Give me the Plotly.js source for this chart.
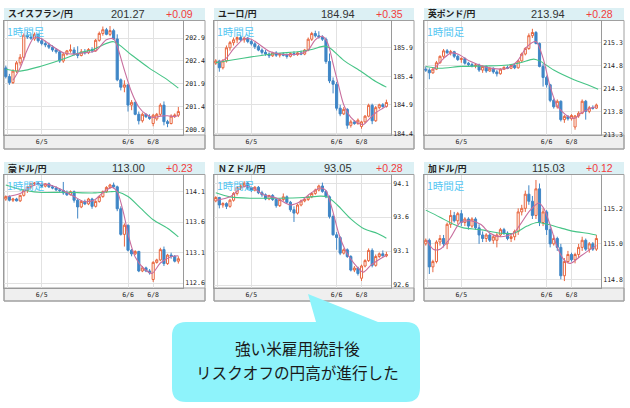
<!DOCTYPE html>
<html><head><meta charset="utf-8">
<script src="https://cdn.plot.ly/plotly-3.0.1.min.js"></script>
<style>html,body{margin:0;padding:0;background:#fff;}#chart{width:630px;height:408px;}</style>
</head><body><div id="chart"></div>
<script>
// ---------- data ----------
const pairNames = ["スイスフラン/円","ユーロ/円","英ポンド/円","豪ドル/円","ＮＺドル/円","加ドル/円"];
const lastPrices = ["201.27","184.94","213.94","113.00","93.05","115.03"];
const dayChanges = ["+0.09","+0.35","+0.28","+0.23","+0.28","+0.12"];
const timeframeLabel = "1時間足";
const xTickVals = [0.4, 10, 34, 41];
const xTickText = ["", "6/5", "6/6", "6/8"];

const chfOpen = [202.25,202.06,201.93,202.18,202.36,202.48,202.96,202.92,202.88,202.98,202.84,202.78,202.75,202.70,202.64,202.60,202.40,202.55,202.62,202.64,202.56,202.52,202.60,202.58,202.65,202.62,202.85,203.00,203.08,202.98,203.06,202.88,201.99,201.83,201.88,201.44,201.50,201.24,201.10,201.24,201.19,201.04,201.14,201.24,201.44,201.08,201.04,201.20,201.22];
const chfHigh = [202.30,202.12,202.22,202.40,202.55,203.00,203.05,203.00,203.02,203.00,202.90,202.84,202.80,202.74,202.68,202.63,202.58,202.64,202.76,202.70,202.72,202.66,202.66,202.68,202.70,202.88,203.04,203.15,203.12,203.16,203.10,202.98,202.02,201.98,201.90,201.55,201.52,201.30,201.28,201.26,201.24,201.25,201.27,201.48,201.52,201.12,201.24,201.26,201.40];
const chfLow = [202.02,201.88,201.90,202.14,202.30,202.42,202.88,202.86,202.84,202.80,202.74,202.70,202.66,202.60,202.56,202.36,202.36,202.52,202.58,202.52,202.46,202.50,202.54,202.55,202.58,202.60,202.82,202.95,202.96,202.94,202.86,201.96,201.76,201.72,201.30,201.33,201.22,201.02,201.06,201.16,201.12,200.98,201.10,201.20,201.00,200.96,201.02,201.16,201.18];
const chfClose = [202.06,201.93,202.18,202.36,202.48,202.96,202.92,202.90,202.98,202.84,202.78,202.75,202.70,202.64,202.60,202.40,202.55,202.62,202.64,202.56,202.52,202.60,202.58,202.65,202.62,202.85,203.00,203.08,202.98,203.06,202.88,201.99,201.83,201.88,201.44,201.50,201.24,201.10,201.24,201.19,201.15,201.22,201.24,201.44,201.08,201.04,201.20,201.22,201.30];
const chfFastX = [2,4,6,8,10,13,16,19,22,25,28,30,31,33,35,37,39,41,43,45,47,48];
const chfFastY = [201.98,202.25,202.65,202.92,202.88,202.72,202.58,202.55,202.58,202.62,202.86,202.88,202.72,202.20,201.72,201.40,201.24,201.17,201.20,201.21,201.19,201.22];
const chfSlowX = [0,4,10,17,21,24,26,30,35,40,45,48];
const chfSlowY = [202.22,202.18,202.29,202.47,202.59,202.64,202.71,202.82,202.53,202.24,201.99,201.81];

const eurOpen = [185.63,185.67,185.55,185.67,185.90,185.99,186.04,186.08,186.04,186.07,186.01,185.97,185.92,185.86,185.82,185.79,185.76,185.81,185.77,185.79,185.77,185.75,185.80,185.78,185.81,185.79,185.86,186.05,186.15,186.11,186.09,186.05,185.66,185.32,185.26,184.84,184.74,184.82,184.54,184.60,184.57,184.52,184.60,184.70,184.89,184.62,184.85,184.90,184.87];
const eurHigh = [185.70,185.69,185.70,185.94,186.02,186.08,186.10,186.12,186.10,186.09,186.04,186.00,185.95,185.89,185.86,185.82,185.83,185.84,185.81,185.82,185.80,185.82,185.84,185.83,185.85,185.88,186.08,186.18,186.20,186.19,186.12,186.08,185.80,185.38,185.30,184.90,184.86,184.84,184.64,184.63,184.66,184.62,184.72,184.92,184.92,184.88,184.92,184.93,184.99];
const eurLow = [185.60,185.48,185.52,185.64,185.85,185.94,185.98,186.02,185.99,185.98,185.94,185.88,185.84,185.78,185.76,185.72,185.74,185.74,185.73,185.75,185.71,185.73,185.76,185.76,185.77,185.77,185.84,186.02,186.08,186.06,186.02,185.62,185.28,185.10,184.80,184.70,184.72,184.48,184.50,184.55,184.55,184.48,184.58,184.68,184.56,184.60,184.82,184.85,184.85];
const eurClose = [185.67,185.55,185.67,185.90,185.99,186.04,186.08,186.04,186.07,186.01,185.97,185.92,185.86,185.82,185.79,185.76,185.81,185.77,185.79,185.77,185.75,185.80,185.78,185.81,185.79,185.86,186.05,186.15,186.11,186.09,186.05,185.66,185.32,185.26,184.84,184.74,184.82,184.54,184.60,184.57,184.63,184.60,184.70,184.89,184.62,184.85,184.90,184.87,184.94];
const eurFastX = [1,3,5,8,10,12,15,18,21,24,26,28,30,31.5,33,34.5,36,38,40,41.5,43,45,47,48];
const eurFastY = [185.65,185.72,185.88,186.06,186.05,185.97,185.84,185.79,185.78,185.80,185.86,186.04,186.10,185.98,185.62,185.25,184.90,184.68,184.58,184.55,184.64,184.76,184.84,184.88];
const eurSlowX = [0,5,10,17,23,27,30.5,32,36,41,45,48];
const eurSlowY = [185.64,185.69,185.74,185.80,185.83,185.87,185.93,185.90,185.68,185.48,185.31,185.21];

const gbpOpen = [214.72,214.70,214.64,214.72,214.86,215.00,215.12,215.08,215.10,215.00,214.93,214.95,214.85,214.82,214.79,214.81,214.70,214.78,214.68,214.74,214.66,214.62,214.72,214.76,214.74,214.80,214.75,214.90,215.05,215.17,215.45,215.52,215.28,214.78,214.54,214.38,214.04,213.90,214.02,213.62,213.69,213.64,213.46,213.70,213.76,214.02,213.80,213.88,213.87];
const gbpHigh = [214.78,214.74,214.75,214.90,215.02,215.16,215.16,215.14,215.12,215.04,214.98,214.98,214.88,214.86,214.84,214.84,214.80,214.80,214.76,214.76,214.70,214.74,214.78,214.80,214.82,214.84,214.92,215.08,215.20,215.50,215.60,215.55,215.30,214.84,214.58,214.40,214.08,214.06,214.04,213.72,213.72,213.74,213.72,213.80,214.06,214.05,213.92,213.93,213.97];
const gbpLow = [214.66,214.50,214.62,214.70,214.84,214.96,215.05,215.02,214.96,214.90,214.86,214.82,214.78,214.76,214.74,214.66,214.64,214.64,214.66,214.62,214.56,214.60,214.70,214.72,214.72,214.72,214.73,214.88,215.02,215.14,215.40,215.26,214.76,214.34,214.32,214.00,213.86,213.86,213.58,213.55,213.60,213.60,213.40,213.66,213.74,213.62,213.76,213.84,213.85];
const gbpClose = [214.70,214.64,214.72,214.86,215.00,215.12,215.08,215.10,215.00,214.93,214.95,214.85,214.82,214.79,214.81,214.70,214.78,214.68,214.74,214.66,214.62,214.72,214.76,214.74,214.80,214.75,214.90,215.05,215.17,215.45,215.52,215.28,214.78,214.54,214.38,214.04,213.90,214.02,213.62,213.69,213.64,213.71,213.70,213.76,214.02,213.80,213.88,213.87,213.94];
const gbpFastX = [2,5,7,9,12.5,17,21,23,25.7,28.5,31,33,35,37,40,42,43.6,46.4,48];
const gbpFastY = [214.70,214.95,215.07,215.05,214.89,214.76,214.72,214.74,214.89,215.21,215.32,214.96,214.34,213.92,213.69,213.65,213.76,213.87,213.90];
const gbpSlowX = [0,4,10,17,23,26.6,30.4,32.3,36,41.7,45.5,48.5];
const gbpSlowY = [214.78,214.74,214.78,214.79,214.81,214.86,214.94,214.89,214.70,214.49,214.38,214.28];

const audOpen = [113.98,114.02,113.96,113.98,113.95,114.04,114.12,114.18,114.23,114.24,114.22,114.19,114.23,114.18,114.16,114.13,114.12,114.08,114.05,114.10,113.96,113.85,113.94,113.90,113.98,113.86,113.94,114.02,114.10,114.17,114.21,114.18,113.82,113.40,113.55,113.14,113.08,113.12,112.80,112.85,112.80,112.66,112.94,112.98,113.15,112.92,113.06,113.04,112.96];
const audHigh = [114.04,114.04,114.00,114.00,114.05,114.14,114.20,114.25,114.26,114.26,114.25,114.24,114.25,114.21,114.19,114.16,114.26,114.12,114.12,114.12,113.98,113.96,113.97,114.00,114.00,113.96,114.04,114.12,114.19,114.23,114.25,114.20,113.86,113.58,113.56,113.16,113.14,113.13,112.88,112.87,112.83,112.96,113.00,113.18,113.20,113.08,113.10,113.06,113.04];
const audLow = [113.95,113.94,113.93,113.94,113.93,114.02,114.08,114.15,114.20,114.20,114.17,114.17,114.16,114.14,114.11,114.09,114.05,114.03,114.04,113.92,113.66,113.83,113.88,113.88,113.82,113.84,113.92,114.00,114.08,114.15,114.16,113.78,113.38,113.20,113.12,113.04,113.06,112.78,112.78,112.78,112.74,112.62,112.92,112.96,112.88,112.90,113.00,112.94,112.92];
const audClose = [114.02,113.96,113.98,113.95,114.04,114.12,114.18,114.23,114.24,114.22,114.19,114.23,114.18,114.16,114.13,114.12,114.08,114.05,114.10,113.96,113.85,113.94,113.90,113.98,113.86,113.94,114.02,114.10,114.17,114.21,114.18,113.82,113.40,113.55,113.14,113.08,113.12,112.80,112.85,112.80,112.77,112.94,112.98,113.15,112.92,113.06,113.04,112.96,113.00];
const audFastX = [0.5,4,8,11.5,15,19,21.7,24.5,27.3,29.6,31,32.8,34.2,36,38.4,40.7,43,45.8,48];
const audFastY = [114.02,114.07,114.21,114.22,114.15,114.02,113.94,113.96,114.10,114.17,114.10,113.74,113.36,113.03,112.84,112.76,112.93,113.03,113.05];
const audSlowX = [0,4,9,17,24.5,29,31,34,37.5,41,45,48];
const audSlowY = [114.21,114.14,114.09,114.09,114.08,114.10,114.10,114.02,113.83,113.64,113.50,113.36];

const nzdOpen = [93.84,93.89,93.78,93.80,93.76,93.85,93.95,94.04,94.06,94.10,94.03,94.00,94.04,93.96,93.93,93.87,93.92,93.86,93.77,93.86,93.90,93.82,93.71,93.66,93.78,93.84,93.86,93.90,93.95,94.00,94.06,93.98,93.90,93.61,93.34,93.30,93.07,93.12,93.02,92.82,92.85,92.70,92.88,92.96,93.11,92.89,93.02,93.06,93.03];
const nzdHigh = [93.91,93.90,93.82,93.82,93.87,93.97,94.06,94.09,94.13,94.12,94.05,94.06,94.06,93.99,93.95,93.93,93.94,93.88,93.88,93.95,93.92,93.84,93.76,93.80,93.86,93.88,93.92,93.97,94.02,94.08,94.11,94.00,93.92,93.64,93.38,93.32,93.14,93.14,93.04,92.88,92.87,92.90,92.98,93.14,93.14,93.05,93.08,93.11,93.09];
const nzdLow = [93.82,93.73,93.74,93.72,93.74,93.83,93.92,94.00,94.04,94.00,93.97,93.98,93.94,93.90,93.85,93.85,93.84,93.74,93.75,93.84,93.80,93.68,93.53,93.64,93.76,93.82,93.84,93.88,93.93,93.98,93.96,93.88,93.58,93.33,93.12,93.04,93.05,93.00,92.80,92.79,92.74,92.66,92.86,92.94,92.86,92.87,93.00,93.02,93.01];
const nzdClose = [93.89,93.78,93.80,93.76,93.85,93.95,94.04,94.06,94.10,94.03,94.00,94.04,93.96,93.93,93.87,93.92,93.86,93.77,93.86,93.90,93.82,93.71,93.66,93.78,93.84,93.86,93.90,93.95,94.00,94.06,93.98,93.90,93.61,93.34,93.30,93.07,93.12,93.02,92.82,92.85,92.77,92.88,92.96,93.11,92.89,93.02,93.06,93.03,93.05];
const nzdFastX = [0.3,4,7.8,10.6,13.4,17.2,21,23.8,26.6,29.4,30.9,32.7,34.6,36.5,38.9,41.5,43.6,46.4,48];
const nzdFastY = [93.85,93.90,94.05,94.03,93.93,93.88,93.78,93.83,93.95,94.03,94.00,93.73,93.36,93.11,92.92,92.79,92.89,92.99,93.04];
const nzdSlowX = [0,4,9.7,17.2,24.7,29.4,31.3,34.2,37.9,41.7,45.5,48];
const nzdSlowY = [93.96,93.90,93.88,93.88,93.89,93.91,93.90,93.78,93.58,93.43,93.36,93.29];

const cadOpen = [115.00,115.02,114.87,114.90,115.01,115.03,115.00,115.11,115.16,115.13,115.17,115.12,115.14,115.10,115.14,115.09,115.05,115.03,115.05,115.02,115.02,115.05,115.08,115.06,115.03,115.04,115.07,115.18,115.20,115.28,115.24,115.16,115.31,115.12,115.18,115.08,115.00,115.03,114.98,114.82,114.90,114.94,114.91,114.94,114.98,115.02,114.97,115.00,114.97];
const cadHigh = [115.03,115.03,114.91,115.02,115.05,115.05,115.12,115.19,115.18,115.18,115.19,115.15,115.15,115.15,115.15,115.11,115.07,115.06,115.06,115.05,115.06,115.09,115.09,115.07,115.05,115.08,115.20,115.22,115.30,115.33,115.27,115.36,115.34,115.20,115.19,115.10,115.05,115.04,115.00,114.92,114.96,114.95,114.95,115.00,115.04,115.03,115.01,115.01,115.05];
const cadLow = [114.99,114.83,114.84,114.89,114.99,114.98,114.97,115.09,115.12,115.11,115.10,115.10,115.08,115.09,115.08,115.00,115.01,115.01,115.01,115.00,114.98,115.04,115.05,115.02,115.01,115.02,115.05,115.16,115.18,115.22,115.14,115.14,115.10,115.10,115.05,114.98,114.99,114.96,114.80,114.79,114.89,114.90,114.89,114.92,114.96,114.96,114.95,114.96,114.96];
const cadClose = [115.02,114.87,114.90,115.01,115.03,115.00,115.11,115.16,115.13,115.17,115.12,115.14,115.10,115.14,115.09,115.05,115.03,115.05,115.02,115.04,115.05,115.08,115.06,115.03,115.04,115.07,115.18,115.20,115.28,115.24,115.16,115.31,115.12,115.18,115.08,115.00,115.03,114.98,114.82,114.90,114.94,114.91,114.94,114.98,115.02,114.97,115.00,114.97,115.03];
const cadFastX = [0.3,2.1,4,6.8,9.7,12.5,15.4,18.1,21,24.7,26.6,29.4,31.8,33.2,35.1,37,38.9,40.7,43.5,46.4,48];
const cadFastY = [115.02,114.97,114.97,115.03,115.12,115.13,115.11,115.06,115.04,115.06,115.11,115.19,115.23,115.20,115.10,114.98,114.91,114.89,114.93,114.97,114.99];
const cadSlowX = [0,4,7.8,10.6,15.4,21,24.7,28.5,31.3,34.2,37.9,41.7,45.5,48];
const cadSlowY = [115.19,115.15,115.11,115.09,115.08,115.06,115.06,115.10,115.12,115.11,115.09,115.07,115.06,115.05];

const yTicks = [
  [200.9,201.4,201.9,202.4,202.9],
  [184.4,184.9,185.4,185.9],
  [213.3,213.8,214.3,214.8,215.3],
  [112.6,113.1,113.6,114.1],
  [92.6,93.1,93.6,94.1],
  [114.8,115.0,115.2]
];
const yRanges = [[200.79,203.27],[184.37,186.37],[213.285,215.77],[112.52,114.374],[92.556,94.222],[114.751,115.388]];
const calloutLines = ["強い米雇用統計後","リスクオフの円高が進行した"];

// ---------- build ----------
const W = 630, H = 408;
const px = x => x / W, py = y => 1 - y / H;
const cols = [{l:4,r:183,o:205},{l:214,r:391,o:414},{l:424,r:601,o:624}];
const rows = [{ht:8,hb:20,t:21,b:135,sb:149},{ht:162,hb:174,t:175,b:288,sb:301}];
const ohlc = [
  [chfOpen,chfHigh,chfLow,chfClose,chfFastX,chfFastY,chfSlowX,chfSlowY],
  [eurOpen,eurHigh,eurLow,eurClose,eurFastX,eurFastY,eurSlowX,eurSlowY],
  [gbpOpen,gbpHigh,gbpLow,gbpClose,gbpFastX,gbpFastY,gbpSlowX,gbpSlowY],
  [audOpen,audHigh,audLow,audClose,audFastX,audFastY,audSlowX,audSlowY],
  [nzdOpen,nzdHigh,nzdLow,nzdClose,nzdFastX,nzdFastY,nzdSlowX,nzdSlowY],
  [cadOpen,cadHigh,cadLow,cadClose,cadFastX,cadFastY,cadSlowX,cadSlowY]
];
const UP = '#e8663f', DOWN = '#3f86c6', FAST = '#c86e9e', SLOW = '#46c486';
const tickFont = {family:'DejaVu Sans Mono, monospace', size:6.5, color:'#222'};
const data = [], shapes = [], annotations = [];
const layout = {
  width: W, height: H, margin:{l:0,r:0,t:0,b:0}, autosize:false,
  paper_bgcolor:'#fff', plot_bgcolor:'#fff', showlegend:false, hovermode:false,
  boxgap: 0.15
};
for (let k = 0; k < 6; k++) {
  const c = cols[k % 3], r = rows[Math.floor(k / 3)];
  const sfx = k === 0 ? '' : String(k + 1);
  const xa = 'x' + sfx, ya = 'y' + sfx;
  const [o,h,l,cl,fx,fy,sx,sy] = ohlc[k];
  const idx = o.map((_, i) => i);
  data.push({type:'candlestick', x: idx, open:o, high:h, low:l, close:cl, xaxis:xa, yaxis:ya,
    increasing:{line:{color:UP,width:1}, fillcolor:'#ffffff'},
    decreasing:{line:{color:DOWN,width:1}, fillcolor:DOWN},
    whiskerwidth:0, hoverinfo:'skip'});
  data.push({type:'scatter', mode:'lines', x:sx, y:sy, xaxis:xa, yaxis:ya,
    line:{color:SLOW, width:1.1, shape:'spline', smoothing:0.8}, hoverinfo:'skip'});
  data.push({type:'scatter', mode:'lines', x:fx, y:fy, xaxis:xa, yaxis:ya,
    line:{color:FAST, width:1.1, shape:'spline', smoothing:0.8}, hoverinfo:'skip'});
  layout['xaxis' + sfx] = {
    domain:[px(c.l), px(c.r)], anchor:ya, range:[-0.5, 49.3],
    tickmode:'array', tickvals:xTickVals, ticktext:xTickText, ticks:'',
    showgrid:true, gridcolor:'#e2e2e2', gridwidth:1, zeroline:false,
    showline:true, linecolor:'#9a9a9a', linewidth:1, mirror:true,
    tickfont:tickFont, rangeslider:{visible:false}, fixedrange:true
  };
  layout['yaxis' + sfx] = {
    domain:[py(r.b), py(r.t)], anchor:xa, range:yRanges[k], side:'right',
    tickmode:'array', tickvals:yTicks[k], tickformat:'.1f', ticks:'',
    showgrid:true, gridcolor:'#e2e2e2', gridwidth:1, zeroline:false,
    showline:true, linecolor:'#9a9a9a', linewidth:1, mirror:true,
    tickfont:tickFont, fixedrange:true
  };
  shapes.push({type:'rect', xref:'paper', yref:'paper', x0:px(c.l), x1:px(c.o), y0:py(r.hb), y1:py(r.ht),
    fillcolor:'#dcf0f4', line:{width:0}, layer:'below'});
  shapes.push({type:'rect', xref:'paper', yref:'paper', x0:px(c.l), x1:px(c.o), y0:py(r.sb), y1:py(r.b),
    fillcolor:'#efefef', line:{color:'#a0a0a0', width:1}, layer:'below'});
  shapes.push({type:'rect', xref:'paper', yref:'paper', x0:px(c.l), x1:px(c.o), y0:py(r.sb), y1:py(r.hb + 0.5),
    fillcolor:'rgba(0,0,0,0)', line:{color:'#a0a0a0', width:1}, layer:'below'});
  annotations.push({xref:'paper', yref:'paper', x:px(c.l + 2), y:py((r.ht + r.hb) / 2), xanchor:'left', yanchor:'middle',
    text:'<b>' + pairNames[k] + '</b>', showarrow:false,
    font:{family:'Noto Sans CJK JP', size:8.8, color:'#222'}});
  annotations.push({xref:'paper', yref:'paper', x:px(c.l + 124), y:py((r.ht + r.hb) / 2), xanchor:'center', yanchor:'middle',
    text:lastPrices[k], showarrow:false, font:{family:'Liberation Sans, Arial', size:11, color:'#333'}});
  annotations.push({xref:'paper', yref:'paper', x:px(c.l + 191), y:py((r.ht + r.hb) / 2), xanchor:'right', yanchor:'middle',
    text:dayChanges[k], showarrow:false, font:{family:'Liberation Sans, Arial', size:10.5, color:'#f23c3c'}});
  annotations.push({xref:'paper', yref:'paper', x:px(c.l + 0.5), y:py(r.t + 0.5), xanchor:'left', yanchor:'top',
    text:timeframeLabel, showarrow:false, font:{family:'Noto Sans CJK JP', size:10.5, color:'#55c6f2'}});
}
const bx0 = 172, bx1 = 420, by0 = 322, by1 = 402, br = 14;
const pts = (x, y) => px(x).toFixed(5) + ',' + py(y).toFixed(5);
const bubble = 'M' + pts(bx0 + br, by0) + ' L' + pts(316, by0) + ' L' + pts(308, 294) + ' L' + pts(378, by0) +
  ' L' + pts(bx1 - br, by0) + ' Q' + pts(bx1, by0) + ' ' + pts(bx1, by0 + br) +
  ' L' + pts(bx1, by1 - br) + ' Q' + pts(bx1, by1) + ' ' + pts(bx1 - br, by1) +
  ' L' + pts(bx0 + br, by1) + ' Q' + pts(bx0, by1) + ' ' + pts(bx0, by1 - br) +
  ' L' + pts(bx0, by0 + br) + ' Q' + pts(bx0, by0) + ' ' + pts(bx0 + br, by0) + ' Z';
shapes.push({type:'path', xref:'paper', yref:'paper', path:bubble, fillcolor:'#8ef3fb', line:{width:0}, layer:'above'});
annotations.push({xref:'paper', yref:'paper', x:px(297), y:py(348), xanchor:'center', yanchor:'middle',
  text:calloutLines[0], showarrow:false, font:{family:'Noto Sans CJK JP', size:15.6, color:'#1a1a1a'}});
annotations.push({xref:'paper', yref:'paper', x:px(297), y:py(372), xanchor:'center', yanchor:'middle',
  text:calloutLines[1], showarrow:false, font:{family:'Noto Sans CJK JP', size:15.6, color:'#1a1a1a'}});
layout.shapes = shapes;
layout.annotations = annotations;
Plotly.newPlot('chart', data, layout, {staticPlot:true, displayModeBar:false});
</script>
</body></html>
